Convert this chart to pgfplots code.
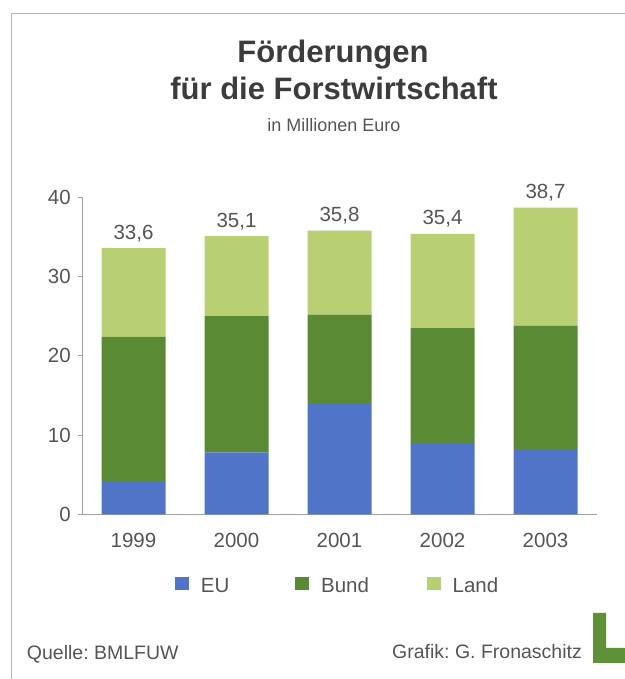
\documentclass[border=0pt]{standalone}
\usepackage{pgfplots}
\pgfplotsset{compat=1.18}
\usepackage{fontspec}
\setmainfont{Liberation Sans}
\definecolor{eublue}{HTML}{5074C8}
\definecolor{bundgreen}{HTML}{5A8A34}
\definecolor{landgreen}{HTML}{B8CF72}
\definecolor{txtgray}{HTML}{555555}
\definecolor{titlegray}{HTML}{3C3C3C}
\definecolor{axisgray}{HTML}{A0A0A0}
\definecolor{framegray}{HTML}{B4B4B4}
\definecolor{logogreen}{HTML}{5F9138}

\pgfplotstableread{
x eu   bund land total summe
0 4.2  18.2 11.2 33.6  33,6
1 7.8  17.2 10.1 35.1  35,1
2 13.9 11.3 10.6 35.8  35,8
3 9.0  14.5 11.9 35.4  35,4
4 8.1  15.7 14.9 38.7  38,7
}\foerderung

\pgfplotsset{geom/.style={at={(82pt,164.7pt)}, anchor=south west,
    width=515pt, height=317pt, scale only axis,
    xmin=-0.5, xmax=4.5, ymin=0, ymax=40, clip=false}}

\begin{document}
\frenchspacing
\begin{tikzpicture}[x=1pt,y=1pt]
\path[use as bounding box] (0,0) rectangle (624,679);
% Rahmen
\draw[framegray, line width=1.5pt] (11.7,-2) -- (11.7,665.7) -- (626,665.7);
% Titel
\node[anchor=base, font=\fontsize{31}{37}\selectfont\bfseries, text=titlegray, inner sep=0pt] at (333,616.3) {Förderungen};
\node[anchor=base, font=\fontsize{31}{37}\selectfont\bfseries, text=titlegray, inner sep=0pt] at (334,579) {für die Forstwirtschaft};
\node[anchor=base, font=\fontsize{18}{22}\selectfont, text=txtgray, inner sep=0pt] at (334,547) {in Millionen Euro};

\begin{axis}[
    geom,
    ybar stacked, bar width=64pt,
    xtick=data, xticklabels={1999,2000,2001,2002,2003},
    ytick={0,10,20,30,40},
    /pgf/number format/assume math mode=true,
    axis x line*=bottom, axis y line*=left,
    axis line style={axisgray, line width=1pt, -},
    x tick style={draw=none},
    y tick style={axisgray, line width=1pt},
    tick align=outside, major tick length=4pt,
    ticklabel style={font=\fontsize{20.5}{24}\selectfont, text=txtgray},
    xticklabel style={anchor=base, inner sep=0pt, yshift=-29pt},
    yticklabel style={anchor=east, inner sep=0pt, xshift=-7pt},
    legend columns=3,
    legend image code/.code={\fill[#1] (0pt,-5.2pt) rectangle (14pt,8.1pt);},
    legend style={at={(0.1806,-0.2215)}, anchor=west, draw=none, fill=none,
        inner sep=0pt, font=\fontsize{20.5}{24}\selectfont, text=txtgray,
        nodes={inner sep=0pt, text height=15pt, text depth=0pt},
        /tikz/every odd column/.append style={column sep=11.7pt},
        /tikz/column 2/.style={column sep=66pt},
        /tikz/column 4/.style={column sep=58pt}},
]
\addplot[fill=eublue, draw=none] table[x=x, y=eu] {\foerderung};
\addplot[fill=bundgreen, draw=none] table[x=x, y=bund] {\foerderung};
\addplot[fill=landgreen, draw=none] table[x=x, y=land] {\foerderung};
\legend{EU, Bund, Land}
\end{axis}

% Summen ueber den Balken
\begin{axis}[geom, hide axis]
\addplot[draw=none, mark=none, nodes near coords, point meta=explicit symbolic,
    every node near coord/.append style={anchor=base, inner sep=0pt, yshift=9pt,
        font=\fontsize{20.5}{24}\selectfont, text=txtgray}]
    table[x=x, y=total, meta=summe] {\foerderung};
\end{axis}

% Fusszeile
\node[anchor=base west, font=\fontsize{19.5}{23}\selectfont, text=txtgray, inner sep=0pt] at (26.7,19.5) {Quelle: BMLFUW};
\node[anchor=base east, font=\fontsize{19.5}{23}\selectfont, text=txtgray, inner sep=0pt] at (582,20) {Grafik: G. Fronaschitz};
\fill[logogreen] (593,16) -- (626,16) -- (626,31) -- (606,31) -- (606,66) -- (593,66) -- cycle;
\end{tikzpicture}
\end{document}
